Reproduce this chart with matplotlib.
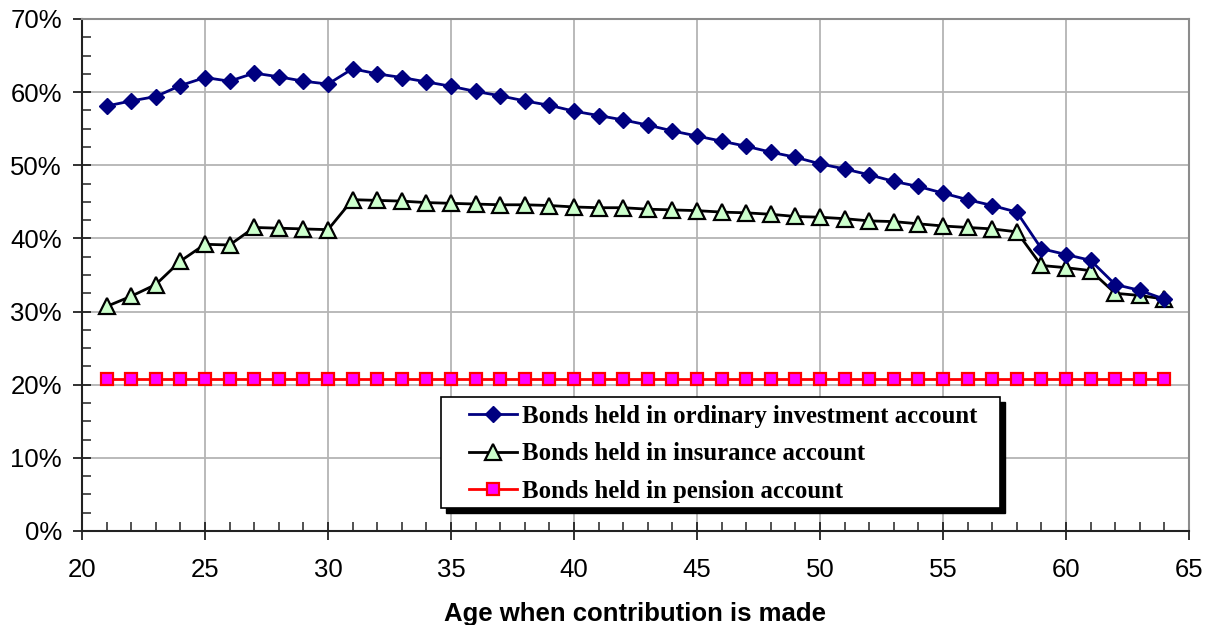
import matplotlib
matplotlib.use("Agg")
import matplotlib.pyplot as plt
from matplotlib.ticker import MultipleLocator, FuncFormatter
from matplotlib.patches import Rectangle

ages = list(range(21, 65))

ordinary = [58.1, 58.8, 59.4, 60.9, 62.0, 61.5, 62.6, 62.1, 61.5, 61.1,
            63.2, 62.5, 62.0, 61.4, 60.8, 60.1, 59.5, 58.8, 58.2, 57.4,
            56.8, 56.2, 55.5, 54.7, 54.0, 53.3, 52.6, 51.8, 51.1, 50.2,
            49.5, 48.7, 47.8, 47.1, 46.2, 45.3, 44.5, 43.6, 38.6, 37.8,
            37.0, 33.7, 32.9, 31.7]

insurance = [30.7, 32.1, 33.7, 36.9, 39.2, 39.1, 41.5, 41.4, 41.3, 41.2,
             45.3, 45.2, 45.1, 44.9, 44.8, 44.7, 44.6, 44.6, 44.5, 44.3,
             44.2, 44.2, 44.0, 43.9, 43.8, 43.6, 43.5, 43.3, 43.0, 42.9,
             42.7, 42.4, 42.3, 42.0, 41.7, 41.5, 41.3, 40.9, 36.3, 36.0,
             35.6, 32.5, 32.2, 31.7]

pension = [20.8] * 44

series_labels = ["Bonds held in ordinary investment account",
                 "Bonds held in insurance account",
                 "Bonds held in pension account"]
x_label = "Age when contribution is made"

W, H = 1211, 625
fig = plt.figure(figsize=(W / 100, H / 100), dpi=100)
ax = fig.add_axes([82/W, 1 - 531/H, (1189-82)/W, (531-19)/H])

ax.plot(ages, ordinary, color="#000080", lw=2, marker="D", ms=8.5,
        mfc="#000080", mec="#000080", label=series_labels[0], zorder=4)
ax.plot(ages, insurance, color="black", lw=2, marker="^", ms=11,
        mfc="#CCFFCC", mec="black", mew=1.6, label=series_labels[1], zorder=3)
ax.plot(ages, pension, color="#FF0000", lw=2, marker="s", ms=9,
        mfc="#FF00FF", mec="#FF0000", mew=1.6, label=series_labels[2], zorder=3)

ax.set_xlim(20, 65)
ax.set_ylim(0, 70)
ax.xaxis.set_major_locator(MultipleLocator(5))
ax.xaxis.set_minor_locator(MultipleLocator(1))
ax.yaxis.set_major_locator(MultipleLocator(10))
ax.yaxis.set_minor_locator(MultipleLocator(2.5))
ax.yaxis.set_major_formatter(FuncFormatter(lambda v, p: f"{v:.0f}%"))

ax.grid(True, which="major", color="#B4B4B4", lw=1.3)
ax.set_axisbelow(True)

for s in ["left", "bottom"]:
    ax.spines[s].set_color("#222222")
    ax.spines[s].set_linewidth(1.5)
for s in ["top", "right"]:
    ax.spines[s].set_color("#8C8C8C")
    ax.spines[s].set_linewidth(1.5)

ax.tick_params(which="major", direction="inout", length=13, width=1.3,
               color="#222222", labelsize=18.5)
ax.tick_params(axis="x", which="major", pad=13)
ax.tick_params(axis="y", which="major", pad=8)
ax.tick_params(which="minor", direction="in", length=6.5, width=1.1,
               color="#222222")
for t in ax.get_xticklabels() + ax.get_yticklabels():
    t.set_fontfamily("Liberation Sans")

ax.set_xlabel(x_label, fontsize=18.5, fontweight="bold",
              fontfamily="Liberation Sans", labelpad=14)

# legend box with shadow
bx0, by0, bx1, by1 = 441, 397, 1000, 508
fig.patches.append(Rectangle(((bx0 + 5) / W, 1 - (by1 + 5) / H), (bx1 - bx0) / W,
                             (by1 - by0) / H, transform=fig.transFigure,
                             facecolor="black", edgecolor="black", zorder=5))
fig.patches.append(Rectangle((bx0 / W, 1 - by1 / H), (bx1 - bx0) / W,
                             (by1 - by0) / H, transform=fig.transFigure,
                             facecolor="white", edgecolor="black", lw=1.2, zorder=6))

leg = fig.legend(*ax.get_legend_handles_labels(), loc="upper left",
                 bbox_to_anchor=(469 / W, 1 - 405 / H), bbox_transform=fig.transFigure,
                 prop={"family": "Liberation Serif", "weight": "bold", "size": 17.8},
                 frameon=False, handlelength=1.95, handletextpad=0.2,
                 borderpad=0, labelspacing=0.58, borderaxespad=0)
leg.set_zorder(7)

fig.savefig("out.png", dpi=100)
